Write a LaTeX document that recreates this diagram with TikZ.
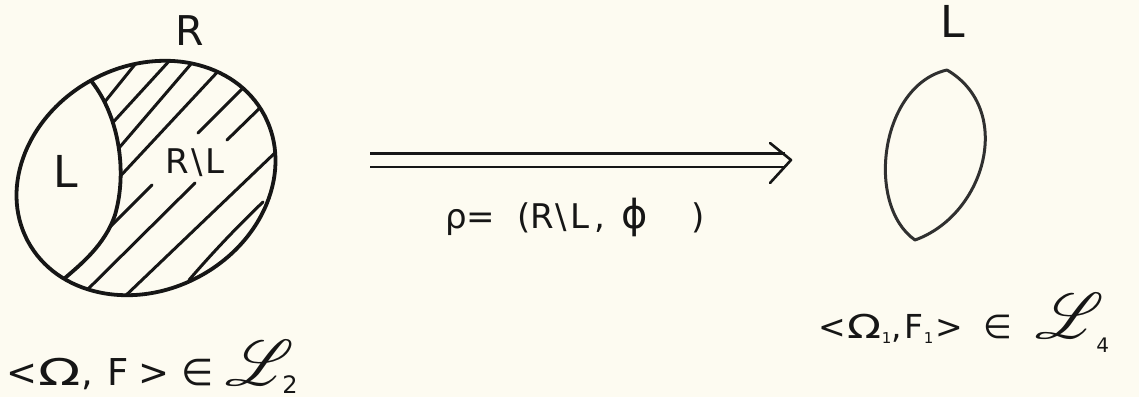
\documentclass[tikz,border=0pt]{standalone}
\usepackage{fontspec}
\setmainfont{DejaVu Sans}
\usepackage{mathrsfs}
\definecolor{paper}{RGB}{253,251,241}
\definecolor{ink}{RGB}{22,22,22}
\definecolor{inkgray}{RGB}{48,48,48}
\newcommand{\scrL}{\scalebox{3.1}{\fontsize{20}{20}\selectfont$\mathscr{L}$}}
\begin{document}
\begin{tikzpicture}[x=1pt,y=-1pt, line cap=round, line join=round,
  outline/.style={draw=ink, line width=3.8pt},
  hatch/.style={draw=ink, line width=3pt},
  lbl/.style={inner sep=0pt, text=ink, anchor=base},
  rail/.style={draw=ink, line width=2.4pt, double=paper, double distance=11pt, line cap=butt},
]
\fill[paper] (0,0) rectangle (1139,397);
\useasboundingbox (0,0) rectangle (1139,397);

% hatching of R\L
\begin{scope}
  \clip[rotate around={28:(146,178)}] (146,178) ellipse [x radius=134pt, y radius=112pt];
  \clip (92,83) .. controls (118,115) and (128,170) .. (115,215)
        .. controls (105,245) and (80,265) .. (65,278)
        -- (55,330) -- (330,330) -- (330,30) -- (95,30) -- cycle;
  \draw[hatch] (95,114) -- (141,57);
  \draw[hatch] (106,130) -- (171,59);
  \draw[hatch] (113,155) -- (197,57);
  \draw[hatch] (113,184) -- (223,66);
  \draw[hatch] (95,242) -- (152,185);
  \draw[hatch] (198,133) -- (251,80);
  \draw[hatch] (80,297) -- (195,183);
  \draw[hatch] (227,140) -- (267,101);
  \draw[hatch] (120,301) -- (279,149);
\end{scope}

% outer set R and the part L
\draw[outline, rotate around={28:(146,178)}] (146,178) ellipse [x radius=134pt, y radius=112pt];
\draw[outline] (92,82) .. controls (118,115) and (128,170) .. (115,215)
      .. controls (105,245) and (80,265) .. (65,278);
\draw[hatch] (189,280) .. controls (214,251) and (238,226) .. (263,202);

\node[lbl, font=\fontsize{41}{41}\selectfont] (labR) at (190,45) {R};
\node[lbl, font=\fontsize{44}{44}\selectfont] (labL) at (66,187) {L};
\node[lbl, font=\fontsize{34}{34}\selectfont] (labRL) at (195,173) {R\hspace{2pt}\textbackslash\hspace{2pt}L};

% right lens L
\draw[draw=inkgray, line width=3pt] (947,70) .. controls (880,85) and (865,205) .. (915,240)
      .. controls (985,215) and (1015,110) .. (947,70);
\node[lbl, font=\fontsize{44}{44}\selectfont] (labL2) at (953,37) {L};

% double arrow
\coordinate (aS) at (370,160);
\coordinate (aE) at (791,160);
\draw[rail] (aS) -- ([xshift=-6pt]aE);
\draw[draw=ink, line width=2.6pt] ([shift={(-21,-17)}]aE) -- (aE) -- ([shift={(-21,23)}]aE);
\node[lbl, anchor=base west, font=\fontsize{34}{34}\selectfont] (rho) at (445,228)
  {ρ=\hspace{22pt}(R\hspace{1pt}\textbackslash\hspace{4pt}L\hspace{5pt},\hspace{16pt}{\fontsize{40}{40}\selectfont ϕ}\hspace{44pt})};

% bottom labels
\node[lbl, anchor=base west, font=\fontsize{37}{37}\selectfont] (lab2) at (6,385)
  {<\hspace{1pt}\scalebox{1.5}[1]{Ω}\hspace{1pt},\hspace{14pt}F\hspace{10pt}>\hspace{12pt}∈\hspace{12pt}\scrL\hspace{-12pt}\raisebox{-8pt}{\fontsize{24}{24}\selectfont 2}};
\node[lbl, anchor=base west, font=\fontsize{33}{33}\selectfont] (lab4) at (818,338)
  {<\hspace{2pt}\scalebox{1.35}[1]{Ω}\raisebox{-5pt}{\fontsize{15}{15}\selectfont 1},\hspace{3pt}F\raisebox{-5pt}{\fontsize{15}{15}\selectfont 1}\hspace{2pt}>\hspace{20pt}∈\hspace{24pt}\scrL\hspace{-8pt}\raisebox{-14pt}{\fontsize{20}{20}\selectfont 4}};
\end{tikzpicture}
\end{document}
